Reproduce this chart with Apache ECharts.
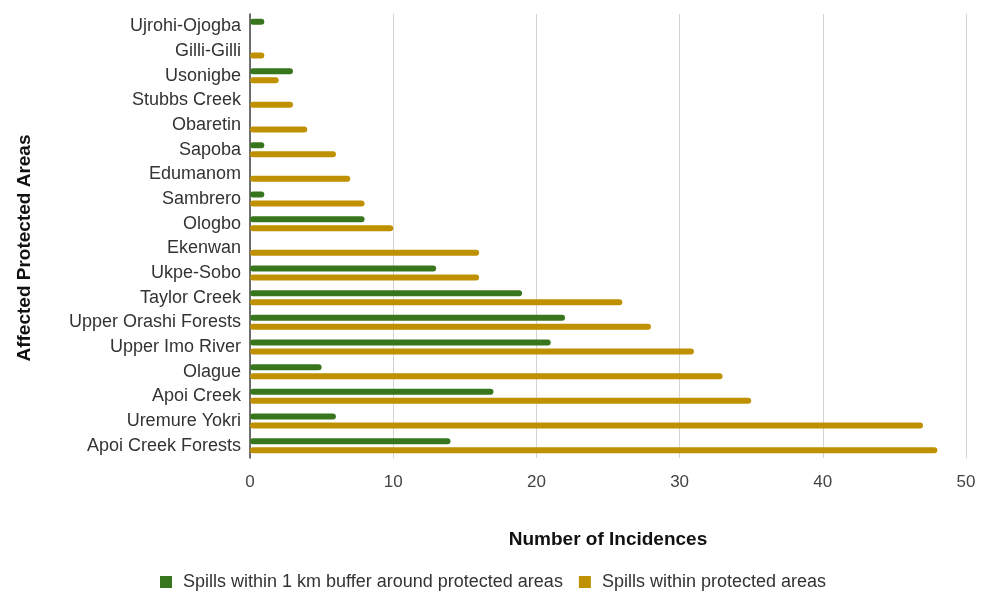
<!DOCTYPE html>
<html>
<head>
<meta charset="utf-8">
<script src="https://cdn.jsdelivr.net/npm/echarts@6/dist/echarts.min.js"></script>
<style>
  html, body { margin: 0; padding: 0; background: #fff; }
  #chart { width: 986px; height: 594px; }
</style>
</head>
<body>
<div id="chart"></div>
<script>
// Protected areas, listed top to bottom
const areas = [
  'Ujrohi-Ojogba', 'Gilli-Gilli', 'Usonigbe', 'Stubbs Creek', 'Obaretin',
  'Sapoba', 'Edumanom', 'Sambrero', 'Ologbo', 'Ekenwan', 'Ukpe-Sobo',
  'Taylor Creek', 'Upper Orashi Forests', 'Upper Imo River', 'Olague',
  'Apoi Creek', 'Uremure Yokri', 'Apoi Creek Forests'
];

// Spill counts within a 1 km buffer around each area
const bufferSpills = [1, 0, 3, 0, 0, 1, 0, 1, 8, 0, 13, 19, 22, 21, 5, 17, 6, 14];

// Spill counts inside each area
const insideSpills = [0, 1, 2, 3, 4, 6, 7, 8, 10, 16, 16, 26, 28, 31, 33, 35, 47, 48];

const xTicks = { min: 0, max: 50, interval: 10 };

const font = 'Liberation Sans, Arial, sans-serif';
const chart = echarts.init(document.getElementById('chart'));

chart.setOption({
  animation: false,
  textStyle: { fontFamily: font },
  grid: { left: 250, right: 20, top: 14, bottom: 136 },
  // Vertical title for the category axis
  graphic: [{
    type: 'text',
    x: 25,
    y: 248,
    rotation: Math.PI / 2,
    style: {
      text: 'Affected Protected Areas',
      font: 'bold 19px Liberation Sans, Arial, sans-serif',
      fill: '#111',
      align: 'center',
      verticalAlign: 'middle'
    }
  }],
  legend: {
    top: 568,
    left: 'center',
    itemWidth: 12,
    itemHeight: 12,
    itemGap: 16,
    icon: 'rect',
    textStyle: { fontSize: 18, color: '#333', fontFamily: font, padding: [0, 0, 0, 6] }
  },
  xAxis: {
    type: 'value',
    min: xTicks.min,
    max: xTicks.max,
    interval: xTicks.interval,
    name: 'Number of Incidences',
    nameLocation: 'middle',
    nameGap: 72,
    nameTextStyle: { fontSize: 19, fontWeight: 'bold', color: '#111', fontFamily: font },
    axisLine: { show: false },
    axisTick: { show: false },
    axisLabel: { fontSize: 17, color: '#444', margin: 16 },
    splitLine: { lineStyle: { color: '#d4d4d4', width: 1 } }
  },
  yAxis: {
    type: 'category',
    data: areas,
    inverse: true,
    axisLine: { show: true, lineStyle: { color: '#444', width: 1.5 } },
    axisTick: { show: false },
    axisLabel: { fontSize: 18, color: '#333', margin: 9 },
    splitLine: { show: false }
  },
  series: [
    {
      name: 'Spills within 1 km buffer around protected areas',
      type: 'bar',
      data: bufferSpills,
      barWidth: 6,
      barGap: '50%',
      itemStyle: { color: '#38761d', borderRadius: 3 }
    },
    {
      name: 'Spills within protected areas',
      type: 'bar',
      data: insideSpills,
      barWidth: 6,
      itemStyle: { color: '#bf9000', borderRadius: 3 }
    }
  ]
});
</script>
</body>
</html>
